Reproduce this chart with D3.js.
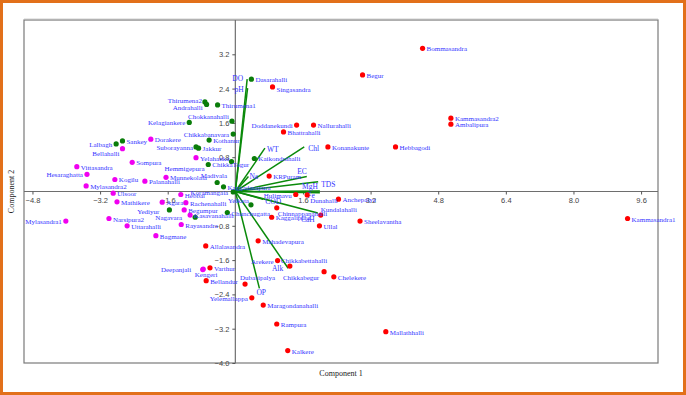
<!DOCTYPE html>
<html>
<head>
<meta charset="utf-8">
<script src="https://cdn.jsdelivr.net/npm/d3@7"></script>
<style>
body { margin: 0; background: #fff; }
svg text { font-family: "Liberation Serif", "DejaVu Serif", serif; }
</style>
</head>
<body>
<svg id="chart"></svg>
<script>
// PCA biplot data (component 1, component 2)
var redSites = [
  ["Bommasandra", 4.43, 3.34], ["Begur", 3.01, 2.72], ["Kammasandra2", 5.10, 1.71],
  ["Ambalipura", 5.10, 1.57], ["Hebbagodi", 3.79, 1.04], ["Konanakunte", 2.19, 1.04],
  ["Singasandra", 0.88, 2.44], ["Doddanekundi", 1.45, 1.55], ["Nallurahalli", 1.85, 1.55],
  ["Bhattrahalli", 1.14, 1.39], ["KRPuram", 0.80, 0.36], ["Hulimavu", 1.43, -0.07],
  ["Dunahalli", 1.70, -0.08], ["Anchepalya", 2.44, -0.18], ["Chinnappanahalli", 0.98, -0.38],
  ["Kundalahalli", 2.02, -0.55], ["Kaggalipura", 0.86, -0.60], ["Ullal", 1.99, -0.80],
  ["Sheelavantha", 2.95, -0.69], ["Kammasandra1", 9.28, -0.63], ["Mahadevapura", 0.54, -1.15],
  ["Allalasandra", -0.70, -1.27], ["Arekere", 1.00, -1.61], ["Chikkabettahalli", 1.29, -1.74],
  ["Chikkabegur", 2.10, -1.87], ["Chelekere", 2.33, -1.99], ["Varthur", -0.60, -1.78],
  ["Bellandur", -0.69, -2.08], ["Dubasipalya", 0.23, -2.16], ["Yelemallappa", 0.39, -2.48],
  ["Maragondanahalli", 0.66, -2.65], ["Rampura", 0.98, -3.09], ["Mallathhalli", 3.56, -3.27],
  ["Kalkere", 1.24, -3.71]
];
var pinkSites = [
  ["Dorakere", -2.00, 1.22], ["Bellahalli", -2.67, 1.00], ["Sompura", -2.44, 0.68],
  ["Vittasandra", -3.75, 0.58], ["Hesaraghatta", -3.51, 0.40], ["Kogilu", -2.85, 0.28],
  ["Palanahalli", -2.14, 0.24], ["Mylasandra2", -3.53, 0.13], ["Ulsoor", -2.89, -0.04],
  ["Mathikere", -2.80, -0.24], ["Narsipura2", -2.99, -0.63], ["Uttarahalli", -2.56, -0.80],
  ["Mylasandra1", -4.01, -0.69], ["Yelahanka", -0.93, 0.79], ["Munnekolala", -1.64, 0.33],
  ["Hebbal", -1.29, -0.07], ["Agara", -1.73, -0.25], ["Rachenahalli", -1.17, -0.26],
  ["Begumpur", -1.21, -0.43], ["Kasavanahalli", -1.07, -0.55], ["Rayasandra", -1.28, -0.77],
  ["Bagmane", -1.88, -1.03], ["Deepanjali", -0.76, -1.81], ["Kengeri", -0.77, -1.82]
];
var greenSites = [
  ["Lalbagh", -2.82, 1.11], ["Sankey", -2.67, 1.18], ["Thirumena2", -0.72, 2.09],
  ["Andrahalli", -0.68, 2.03], ["Thirumena1", -0.42, 2.02], ["Kelagiankere", -1.09, 1.61],
  ["Chokkanahalli", -0.08, 1.64], ["Chikkabanavara", -0.05, 1.34], ["Kothanur", -0.62, 1.20],
  ["Suborayanna", -0.93, 1.04], ["Jakkur", -0.87, 1.01], ["Dasarahalli", 0.38, 2.62],
  ["Kaikondrahalli", 0.45, 0.77], ["ChikkaTogur", -0.64, 0.63], ["Hemmigepura", -0.09, 0.70],
  ["Madivala", -0.43, 0.21], ["Kaggadasapura", -0.28, 0.11], ["Koramangala", -0.05, -0.01],
  ["Yelkata", 0.37, -0.31], ["Chunchugatta", -0.19, -0.49], ["Yediyur", -1.56, -0.43],
  ["Nagavara", -0.95, -0.60]
];

// loading vectors
var vecNames = ["DO", "pH", "WT", "Chl", "EC", "TDS", "MgH", "Fe", "COD", "CaH", "Alk", "OP", "Na"];
var vecX = [0.28, 0.29, 0.70, 1.63, 1.69, 1.96, 2.00, 2.00, 0.66, 1.95, 1.25, 0.57, 0.31];
var vecY = [2.62, 2.41, 1.01, 1.04, 0.35, 0.23, 0.01, -0.03, -0.18, -0.50, -1.79, -2.26, 0.35];

var xTicks = [-4.8, -3.2, -1.6, 1.6, 3.2, 4.8, 6.4, 8.0, 9.6];
var yTicks = [3.2, 2.4, 1.6, 0.8, -0.8, -1.6, -2.4, -3.2, -4.0];

// label placement: [dx, dy, anchor]; default is right of the dot
var siteLabelPos = {
  "Lalbagh": [-4, 3, "end"], "Bellahalli": [-3, 7, "end"], "Hesaraghatta": [-4, 3, "end"],
  "Mylasandra1": [-4, 3, "end"], "Thirumena2": [-3, 1, "end"], "Andrahalli": [-4, 6, "end"],
  "Kelagiankere": [-4, 3, "end"], "Chokkanahalli": [-3, -2, "end"], "Chikkabanavara": [-4, 3, "end"],
  "Suborayanna": [-3, 3, "end"], "Madivala": [10, -4, "end"], "Koramangala": [-5, 3, "end"],
  "Yelkata": [-2, -2, "end"], "Yediyur": [-10, 4, "end"], "Nagavara": [-13, 3, "end"],
  "Deepanjali": [-12, 3, "end"], "Kengeri": [-8, 7, "start"], "Arekere": [-4, 3, "end"],
  "Yelemallappa": [-4, 3, "end"], "Hulimavu": [-4, 3, "end"], "Hemmigepura": [-27, 10, "end"],
  "Doddanekundi": [-4, 3, "end"], "Chikkabegur": [-5, 8, "end"], "Chikkabettahalli": [-9, -3, "start"],
  "Dubasipalya": [-5, -4, "start"], "Kundalahalli": [0, -3, "start"], "Chinnappanahalli": [1, 8, "start"],
  "Dunahalli": [3, 8, "start"], "Singasandra": [4, 5, "start"]
};
var vecLabelPos = {
  "DO": [-4, 2, "end"], "pH": [-4, 4, "end"], "WT": [2, 4, "start"], "Chl": [4, 4, "start"],
  "EC": [0, -2, "end"], "TDS": [3, 5, "start"], "MgH": [-2, -2, "end"], "Fe": [-5, 5, "end"],
  "COD": [2, 5, "start"], "CaH": [-3, 9, "end"], "Alk": [-5, 3, "end"], "OP": [-3, 7, "start"],
  "Na": [1, 3, "start"]
};

var screen = {width: 686, height: 395};
var plot = {left: 24, right: 658, top: 20, bottom: 363};

var svg = d3.select("#chart")
  .attr("width", screen.width)
  .attr("height", screen.height);

// orange outer border
svg.append("rect")
  .attr("x", 1.5).attr("y", 1.5)
  .attr("width", screen.width - 3).attr("height", screen.height - 3)
  .attr("fill", "none")
  .attr("stroke", "#e2701a")
  .attr("stroke-width", 3);

var xScale = d3.scaleLinear().domain([-5, 10]).range([plot.left, plot.right]);
var yScale = d3.scaleLinear().domain([-4, 4]).range([plot.bottom, plot.top]);

// frame
svg.append("rect")
  .attr("x", plot.left).attr("y", plot.top)
  .attr("width", plot.right - plot.left).attr("height", plot.bottom - plot.top)
  .attr("fill", "none")
  .attr("stroke", "#7a7a7a")
  .attr("stroke-width", 1.2);
svg.append("line")
  .attr("x1", plot.left).attr("x2", plot.right)
  .attr("y1", plot.top - 0.8).attr("y2", plot.top - 0.8)
  .attr("stroke", "#b5b5b5").attr("stroke-width", 1);

var fmt = d3.format(".1f");

var xAxis = svg.append("g")
  .attr("transform", "translate(0," + yScale(0) + ")")
  .call(d3.axisBottom(xScale).tickValues(xTicks).tickFormat(fmt).tickSize(3).tickSizeOuter(0));
var yAxis = svg.append("g")
  .attr("transform", "translate(" + xScale(0) + ",0)")
  .call(d3.axisLeft(yScale).tickValues(yTicks).tickFormat(fmt).tickSize(3).tickSizeOuter(0));

[xAxis, yAxis].forEach(function(ax) {
  ax.select(".domain").attr("stroke", "#6e6e6e").attr("stroke-width", 1.2);
  ax.selectAll(".tick line").attr("stroke", "#555");
  ax.selectAll(".tick text")
    .attr("fill", "#444")
    .style("font-family", "'Liberation Sans', Arial, sans-serif")
    .style("font-size", "7.5px");
});
xAxis.select(".domain").attr("d", "M" + plot.left + ",0H" + plot.right);
yAxis.select(".domain").attr("d", "M0," + plot.top + "V" + plot.bottom);

// axis titles
svg.append("text")
  .attr("x", (plot.left + plot.right) / 2)
  .attr("y", 376)
  .attr("text-anchor", "middle")
  .attr("font-size", 8)
  .attr("fill", "#222")
  .text("Component 1");
svg.append("text")
  .attr("transform", "translate(14," + ((plot.top + plot.bottom) / 2) + ") rotate(-90)")
  .attr("text-anchor", "middle")
  .attr("font-size", 8)
  .attr("fill", "#222")
  .text("Component 2");

// loading vectors
var vecs = vecNames.map(function(n, i) { return {name: n, x: vecX[i], y: vecY[i]}; });
var vg = svg.append("g");
vg.selectAll("line")
  .data(vecs)
  .enter()
  .append("line")
  .attr("x1", xScale(0)).attr("y1", yScale(0))
  .attr("x2", function(d) { return xScale(d.x); })
  .attr("y2", function(d) { return yScale(d.y); })
  .attr("stroke", "#0a8a0a")
  .attr("stroke-width", 1.5);

// points
var groups = [
  {sites: redSites, color: "#ff0000"},
  {sites: pinkSites, color: "#f000f0"},
  {sites: greenSites, color: "#0a7d0a"}
];
groups.forEach(function(g) {
  svg.append("g")
    .selectAll("circle")
    .data(g.sites)
    .enter()
    .append("circle")
    .attr("cx", function(d) { return xScale(d[1]); })
    .attr("cy", function(d) { return yScale(d[2]); })
    .attr("r", 2.6)
    .attr("fill", g.color);
});

var posOf = function(map, name) { return map[name] || [4, 3, "start"]; };

// site labels
var allSites = redSites.concat(pinkSites, greenSites);
svg.append("g")
  .selectAll("text")
  .data(allSites)
  .enter()
  .append("text")
  .attr("x", function(d) { return xScale(d[1]) + posOf(siteLabelPos, d[0])[0]; })
  .attr("y", function(d) { return yScale(d[2]) + posOf(siteLabelPos, d[0])[1]; })
  .attr("text-anchor", function(d) { return posOf(siteLabelPos, d[0])[2]; })
  .attr("font-size", 7)
  .attr("fill", "#3434ff")
  .text(function(d) { return d[0]; });

// vector labels
vg.selectAll("text")
  .data(vecs)
  .enter()
  .append("text")
  .attr("x", function(d) { return xScale(d.x) + posOf(vecLabelPos, d.name)[0]; })
  .attr("y", function(d) { return yScale(d.y) + posOf(vecLabelPos, d.name)[1]; })
  .attr("text-anchor", function(d) { return posOf(vecLabelPos, d.name)[2]; })
  .attr("font-size", 7.5)
  .attr("fill", "#3434ff")
  .text(function(d) { return d.name; });
</script>
</body>
</html>
